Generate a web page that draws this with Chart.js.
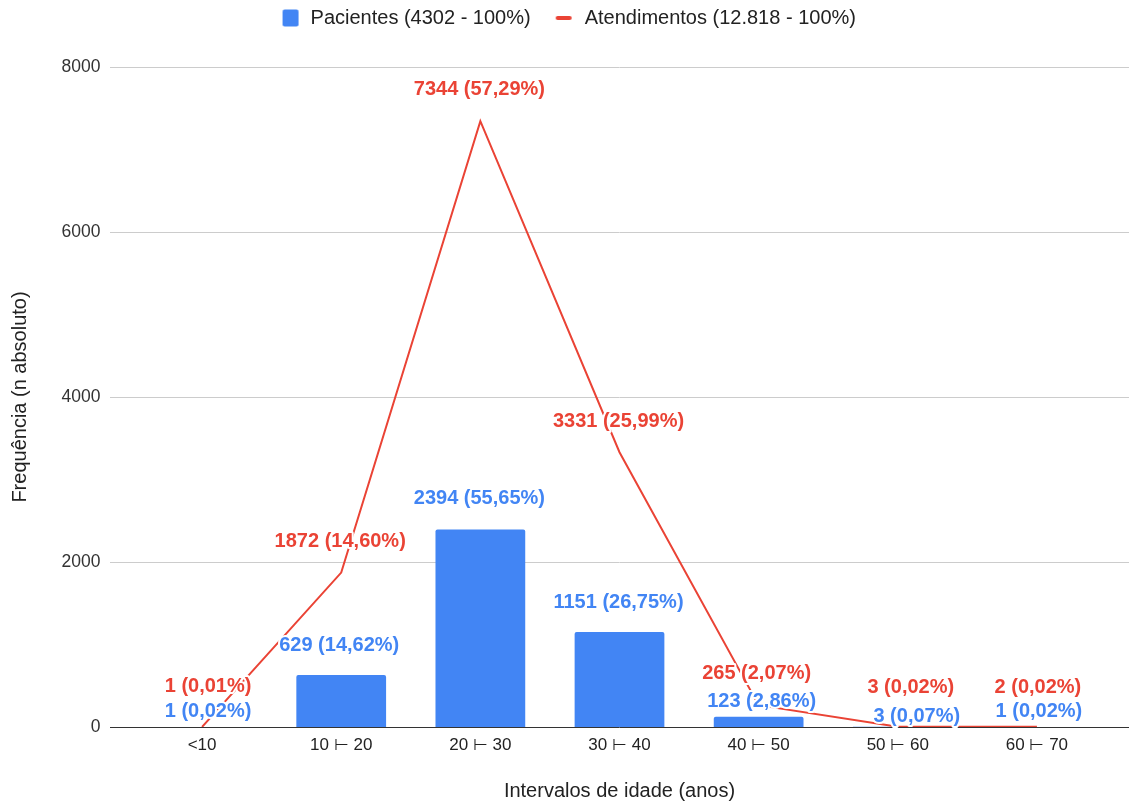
<!DOCTYPE html>
<html>
<head>
<meta charset="utf-8">
<script src="https://cdn.jsdelivr.net/npm/chart.js@4.4.1/dist/chart.umd.min.js"></script>
<style>
  html, body { margin: 0; padding: 0; background: #fff; }
</style>
</head>
<body>
<canvas id="ageChart" width="1129" height="803"></canvas>
<script>
// data
const ageGroups = ['<10', '10 \u22A2 20', '20 \u22A2 30', '30 \u22A2 40', '40 \u22A2 50', '50 \u22A2 60', '60 \u22A2 70'];
const patients = [1, 629, 2394, 1151, 123, 3, 1];
const patientsPct = ['0,02', '14,62', '55,65', '26,75', '2,86', '0,07', '0,02'];
const visits = [1, 1872, 7344, 3331, 265, 3, 2];
const visitsPct = ['0,01', '14,60', '57,29', '25,99', '2,07', '0,02', '0,02'];
const yTicks = [0, 2000, 4000, 6000, 8000];

const blue = '#4285F4';
const red = '#EA4335';
const fontFam = '"Liberation Sans", Arial, sans-serif';

// label placement (px above the point, and small sideways nudges)
const blueLift = [15, 30, 31, 30, 15, 10, 15];
const blueShift = [6, -2, -1, -1, 3, 19, 2];
const redLift = [40, 31, 32, 31, 32, 39, 39];
const redShift = [6, -1, -1, -1, -2, 13, 1];

function marker(color, x, w, h) {
    const c = document.createElement('canvas');
    c.width = 36; c.height = 20;
    const g = c.getContext('2d');
    g.fillStyle = color;
    g.beginPath();
    if (g.roundRect) g.roundRect(x, (20 - h) / 2, w, h, 2); else g.rect(x, (20 - h) / 2, w, h);
    g.fill();
    return c;
}
const barMarker = marker(blue, 18, 16, 17);
const lineMarker = marker(red, 17, 16, 4);

const gridLines = {
    id: 'gridLines',
    beforeDatasetsDraw(chart) {
        const ctx = chart.ctx;
        const y = chart.scales.y;
        ctx.save();
        yTicks.forEach(v => {
            const py = Math.round(y.getPixelForValue(v)) + 0.5;
            ctx.strokeStyle = v === 0 ? '#333' : '#ccc';
            ctx.lineWidth = 1;
            ctx.beginPath();
            ctx.moveTo(110, py);
            ctx.lineTo(chart.width, py);
            ctx.stroke();
        });
        ctx.restore();
    }
};

const valueLabels = {
    id: 'valueLabels',
    afterDraw(chart) {
        const ctx = chart.ctx;
        ctx.save();
        ctx.font = 'bold 20px ' + fontFam;
        ctx.textAlign = 'center';
        ctx.textBaseline = 'middle';
        ctx.lineJoin = 'round';
        const sets = [
            { idx: 0, vals: patients, pct: patientsPct, color: blue, lift: blueLift, shift: blueShift },
            { idx: 1, vals: visits, pct: visitsPct, color: red, lift: redLift, shift: redShift }
        ];
        sets.forEach(s => {
            chart.getDatasetMeta(s.idx).data.forEach((el, i) => {
                const txt = s.vals[i] + ' (' + s.pct[i] + '%)';
                const x = el.x + s.shift[i];
                const y = el.y - s.lift[i];
                ctx.strokeStyle = '#fff';
                ctx.lineWidth = 4;
                ctx.strokeText(txt, x, y);
                ctx.fillStyle = s.color;
                ctx.fillText(txt, x, y);
            });
        });
        ctx.restore();
    }
};

new Chart(document.getElementById('ageChart').getContext('2d'), {
    type: 'bar',
    data: {
        labels: ageGroups,
        datasets: [{
            label: 'Pacientes (4302 - 100%)',
            data: patients,
            backgroundColor: blue,
            barPercentage: 0.645,
            categoryPercentage: 1,
            borderRadius: 2,
            order: 1
        }, {
            type: 'line',
            label: 'Atendimentos (12.818 - 100%)',
            data: visits,
            borderColor: red,
            backgroundColor: red,
            borderWidth: 2,
            pointRadius: 0,
            tension: 0,
            order: 0
        }]
    },
    options: {
        responsive: false,
        animation: false,
        layout: { padding: { left: 14, right: 22.5, top: 0, bottom: 0 } },
        plugins: {
            tooltip: { enabled: false },
            legend: {
                position: 'top',
                labels: {
                    usePointStyle: true,
                    pointStyleWidth: 36,
                    padding: 8,
                    color: '#222',
                    font: { family: fontFam, size: 20 },
                    sort: (a, b) => a.datasetIndex - b.datasetIndex,
                    generateLabels(chart) {
                        const items = Chart.defaults.plugins.legend.labels.generateLabels(chart);
                        items.forEach(it => {
                            it.pointStyle = it.datasetIndex === 0 ? barMarker : lineMarker;
                        });
                        return items;
                    }
                }
            },
            // empty spacer under the legend
            subtitle: {
                display: true,
                text: ' ',
                position: 'top',
                weight: 500,
                font: { size: 10 },
                padding: { top: 0, bottom: 17 }
            }
        },
        scales: {
            x: {
                grid: { display: false, drawTicks: false },
                border: { display: false },
                ticks: { color: '#222', font: { family: fontFam, size: 17 }, padding: 8 },
                title: {
                    display: true,
                    text: 'Intervalos de idade (anos)',
                    color: '#222',
                    font: { family: fontFam, size: 20 },
                    padding: { top: 0, bottom: 0 }
                },
                afterFit(scale) { scale.height = 76; }
            },
            y: {
                min: 0,
                max: 8000,
                grid: { display: false, drawTicks: false },
                border: { display: false },
                afterBuildTicks(scale) { scale.ticks = yTicks.map(v => ({ value: v })); },
                ticks: {
                    color: '#333',
                    font: { family: fontFam, size: 17.5 },
                    padding: 32,
                    callback: v => String(v)
                },
                title: {
                    display: true,
                    text: 'Frequência (n absoluto)',
                    color: '#222',
                    font: { family: fontFam, size: 20 },
                    padding: { top: -6, bottom: 0 }
                },
                afterFit(scale) { scale.width = 118.5; }
            }
        }
    },
    plugins: [gridLines, valueLabels]
});
</script>
</body>
</html>
